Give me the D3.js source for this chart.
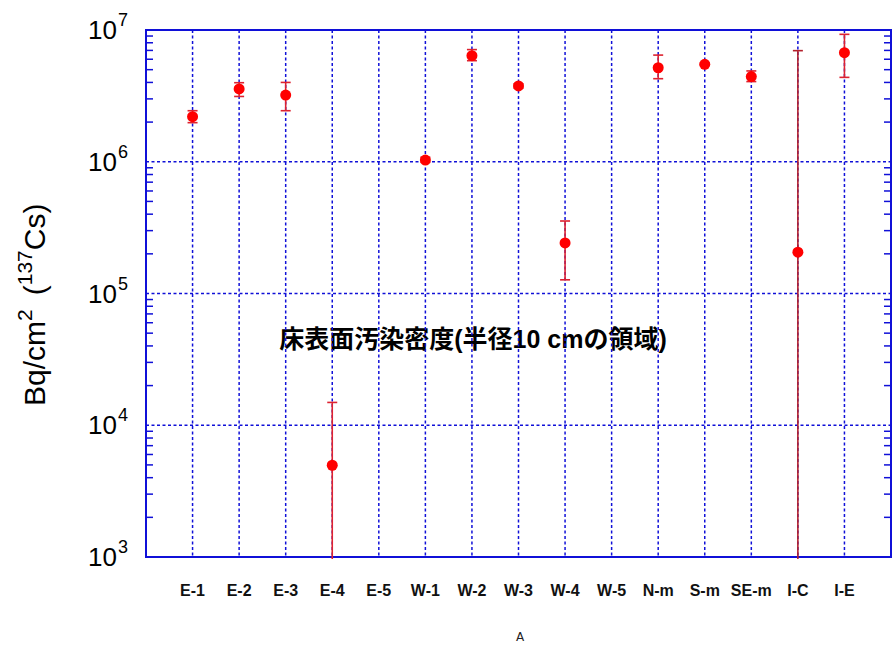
<!DOCTYPE html>
<html><head><meta charset="utf-8">
<script src="https://cdn.jsdelivr.net/npm/d3@7"></script>
<style>body{margin:0;background:#fff}svg{display:block}</style>
</head><body><svg id="c" width="892" height="646"></svg>
<script>
const categories = ["E-1","E-2","E-3","E-4","E-5","W-1","W-2","W-3","W-4","W-5","N-m","S-m","SE-m","I-C","I-E"];
const values = [2.2e6, 3.57e6, 3.21e6, 4.97e3, null, 1.03e6, 6.38e6, 3.76e6, 2.42e5, null, 5.17e6, 5.49e6, 4.43e6, 2.06e5, 6.73e6];
const errHigh = [2.44e6, 3.98e6, 4.0e6, 1.49e4, null, 1.08e6, 7.1e6, 3.9e6, 3.55e5, null, 6.45e6, 5.6e6, 4.89e6, 6.97e6, 9.27e6];
const errLow  = [1.98e6, 3.13e6, 2.44e6, 1e2, null, 0.99e6, 5.85e6, 3.62e6, 1.27e5, null, 4.27e6, 5.38e6, 4.06e6, 1e2, 4.37e6];
const yTicks = [1e3, 1e4, 1e5, 1e6, 1e7];
const yTickExp = ["3","4","5","6","7"];
const annotation = "床表面汚染密度(半径10 cmの領域)";

const svg = d3.select("#c");
const m = {l:146, r:891, t:30, b:557};
const x = d3.scaleLinear().domain([0, categories.length + 1]).range([m.l, m.r]);
const y = d3.scaleLog().domain([1e3, 1e7]).range([m.b, m.t]).clamp(true);
const blue = "#1010d8";

// annotation (under the grid)
svg.append("text").attr("x",473).attr("y",348).attr("text-anchor","middle")
  .attr("font-family","Liberation Sans, Noto Sans CJK JP, sans-serif").attr("font-weight","bold").attr("font-size",25)
  .attr("fill","#000").text(annotation);

// grid
const g = svg.append("g");
g.selectAll("line.vg").data(categories).join("line")
  .attr("x1", (d,i)=>x(i+1)).attr("x2",(d,i)=>x(i+1))
  .attr("y1", m.t).attr("y2", m.b)
  .attr("stroke", blue).attr("stroke-width", 1.5).attr("stroke-dasharray","3,2.5");
g.selectAll("line.hg").data(yTicks.slice(1,-1)).join("line")
  .attr("x1", m.l).attr("x2", m.r).attr("y1", d=>y(d)).attr("y2", d=>y(d))
  .attr("stroke", blue).attr("stroke-width", 1.5).attr("stroke-dasharray","3,2.5");

// minor ticks left & right
const minor = [];
for (let e=3; e<7; e++) for (let k=2; k<=9; k++) minor.push(k*Math.pow(10,e));
svg.append("g").selectAll("line").data(minor).join("line")
  .attr("x1", m.l).attr("x2", m.l+7).attr("y1", d=>y(d)).attr("y2", d=>y(d))
  .attr("stroke", blue).attr("stroke-width", 1.5);
svg.append("g").selectAll("line").data(minor).join("line")
  .attr("x1", m.r).attr("x2", m.r-7).attr("y1", d=>y(d)).attr("y2", d=>y(d))
  .attr("stroke", blue).attr("stroke-width", 1.5);

// frame
svg.append("rect").attr("x", m.l).attr("y", m.t).attr("width", m.r-m.l).attr("height", m.b-m.t)
  .attr("fill","none").attr("stroke", blue).attr("stroke-width", 2);

// y tick labels
const yl = svg.append("g").attr("font-family","Liberation Sans, Arial, sans-serif").attr("fill","#000");
yTicks.forEach((v,i)=>{
  yl.append("text").attr("x", 117).attr("y", y(v)+9).attr("text-anchor","end").attr("font-size", 26).text("10");
  yl.append("text").attr("x", 118).attr("y", y(v)-4).attr("font-size", 18).text(yTickExp[i]);
});

// x labels
svg.append("g").selectAll("text").data(categories).join("text")
  .attr("x",(d,i)=>x(i+1)).attr("y", 596).attr("text-anchor","middle")
  .attr("font-family","Liberation Sans, Arial, sans-serif").attr("font-weight","bold").attr("font-size",16)
  .attr("fill","#111").text(d=>d);

// y axis title
const yt = svg.append("text").attr("transform","translate(45,406) rotate(-90)").attr("text-anchor","start")
  .attr("font-family","Liberation Sans, Arial, sans-serif").attr("font-size",30).attr("fill","#000");
yt.append("tspan").text("Bq/cm");
yt.append("tspan").attr("font-size",21).attr("dy",-13).text("2");
yt.append("tspan").attr("dy",13).attr("dx",14).text("(");
yt.append("tspan").attr("font-size",21).attr("dy",-13).text("137");
yt.append("tspan").attr("dy",13).text("Cs)");

// data
const pts = categories.map((c,i)=>({i, v:values[i], hi:errHigh[i], lo:errLow[i]})).filter(d=>d.v!=null);
const eb = svg.append("g");
pts.forEach(d=>{
  const col = d.i===13 ? "#b3202c" : "#dd2230";
  const yb = d.lo <= 1e3 ? m.b+2 : y(d.lo);
  eb.append("line").attr("x1",x(d.i+1)).attr("x2",x(d.i+1)).attr("y1",y(d.hi)).attr("y2",yb)
    .attr("stroke",col).attr("stroke-width",1.6);
  eb.append("line").attr("x1",x(d.i+1)-5).attr("x2",x(d.i+1)+5).attr("y1",y(d.hi)).attr("y2",y(d.hi))
    .attr("stroke",col).attr("stroke-width",1.6);
  if (d.lo > 1e3) eb.append("line").attr("x1",x(d.i+1)-5).attr("x2",x(d.i+1)+5).attr("y1",y(d.lo)).attr("y2",y(d.lo))
    .attr("stroke",col).attr("stroke-width",1.6);
});
svg.append("g").selectAll("circle").data(pts).join("circle")
  .attr("cx",d=>x(d.i+1)).attr("cy",d=>y(d.v)).attr("r",5.5).attr("fill","#ff0000");

svg.append("text").attr("x",520).attr("y",641).attr("text-anchor","middle")
  .attr("font-family","DejaVu Sans, sans-serif").attr("font-size",12).attr("fill","#222").text("A");
</script></body></html>
